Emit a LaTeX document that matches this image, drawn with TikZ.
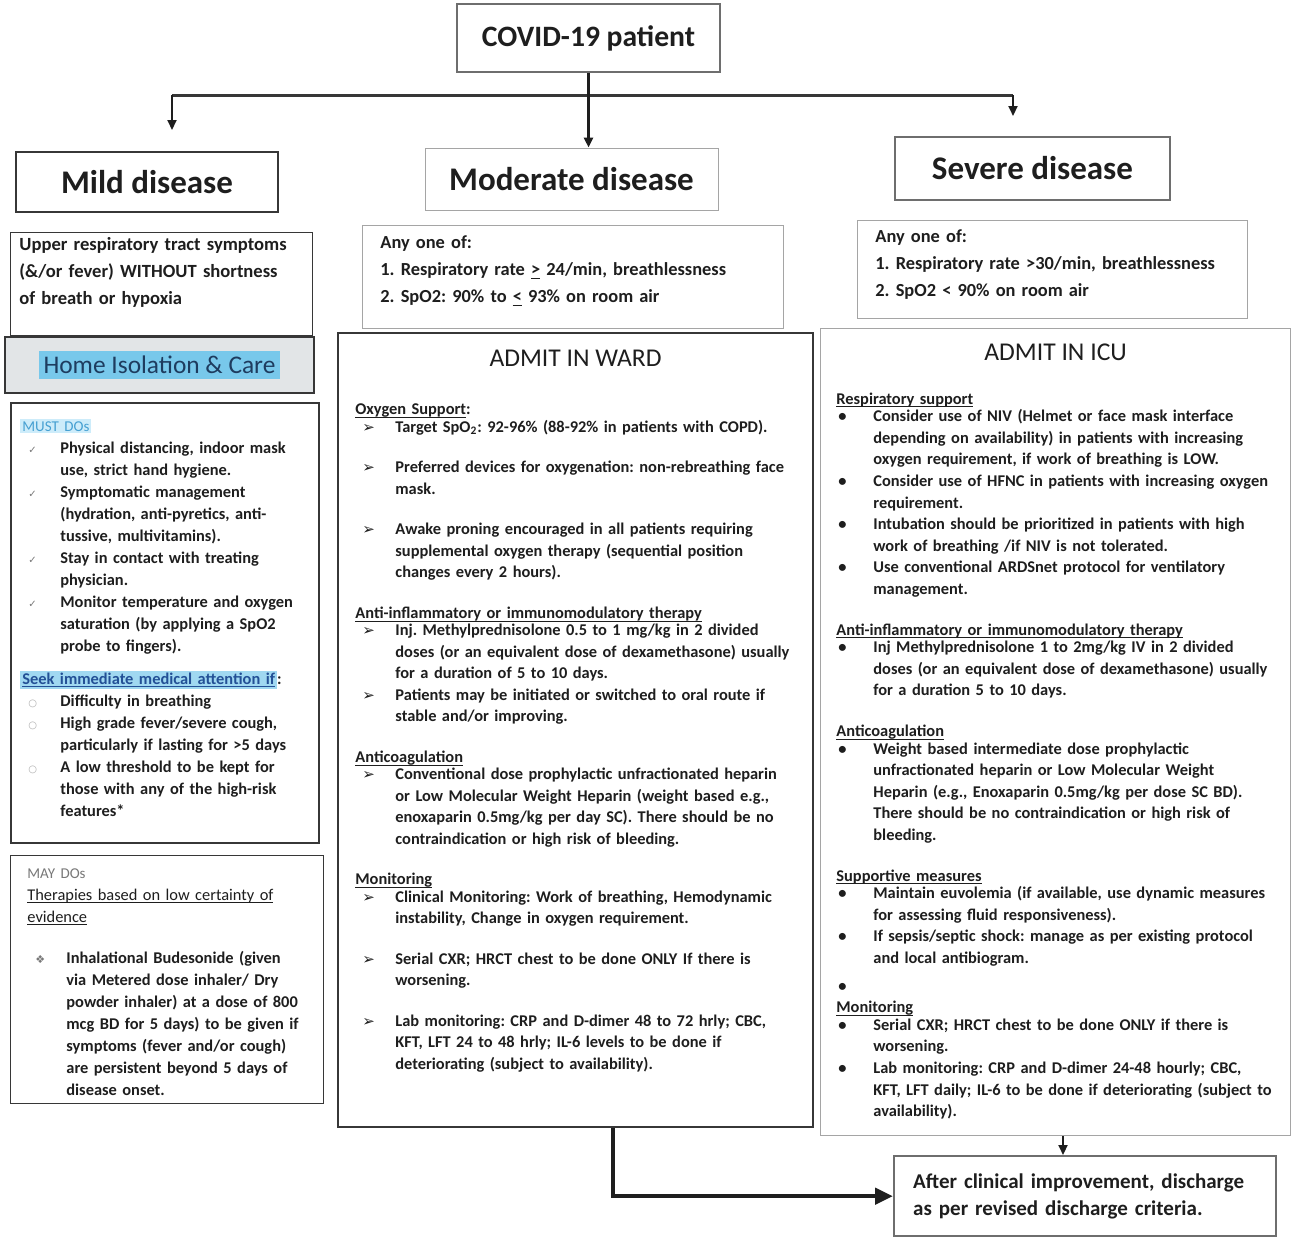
\documentclass[tikz,border=0pt]{standalone}
\usepackage{fontspec}
\setmainfont{Carlito}
\newfontfamily\symfont{DejaVu Sans}
\usetikzlibrary{positioning,calc,arrows.meta}

\definecolor{ink}{RGB}{30,30,30}
\definecolor{darkframe}{RGB}{55,55,55}
\definecolor{midframe}{RGB}{110,110,110}
\definecolor{paleframe}{RGB}{165,165,165}
\definecolor{hlblue}{RGB}{120,200,235}
\definecolor{paleblue}{RGB}{205,236,250}
\definecolor{mustblue}{RGB}{70,160,210}
\definecolor{linkblue}{RGB}{35,80,150}
\definecolor{homegray}{RGB}{226,229,231}
\definecolor{homeink}{RGB}{30,60,95}
\definecolor{markgray}{RGB}{120,120,120}

\setlength{\parindent}{0pt}
\newcommand{\ulinetext}[1]{\leavevmode\setbox0\hbox{#1}\rlap{\rule[-1.6pt]{\wd0}{0.45pt}}\box0}
\newcommand{\listentry}[3]{\par\noindent\hangindent=#1\hangafter=1\makebox[#1][l]{#2}{\def\\{\hfil\break}#3}\par}
\newcommand{\subhead}[2][]{\par\noindent\ulinetext{#2}#1\par\vspace{-2pt}}
\newcommand{\groupgap}{\vspace{9.5pt}}
\newcommand{\wardpt}[1]{\listentry{20pt}{\hspace{3.5pt}{\symfont\fontsize{7.5}{6}\selectfont ➢}}{#1}}
\newcommand{\icupt}[1]{\listentry{18.5pt}{\hspace{1pt}•}{#1}}
\newcommand{\tickpt}[1]{\listentry{20pt}{\hspace{4pt}{\symfont\color{markgray}\fontsize{5}{6}\selectfont ✓}}{#1}}
\newcommand{\ringpt}[1]{\listentry{20pt}{\hspace{4pt}{\symfont\color{markgray!60}\fontsize{5}{6}\selectfont ○}}{#1}}
\newcommand{\diampt}[1]{\listentry{19.5pt}{\hspace{4pt}{\symfont\color{markgray}\fontsize{5.5}{6}\selectfont ❖}}{#1}}
\newcommand{\hlt}[3][1pt]{{\setlength{\fboxsep}{#1}\colorbox{#2}{#3}}}

\begin{document}
\frenchspacing
\begin{tikzpicture}[x=0.5pt,y=-0.5pt,every node/.style={text=ink},
panel/.style={draw=#1, line width=0.6pt, inner sep=0pt, anchor=north west},
stage/.style={draw=#1, font=\fontsize{16.5}{20}\selectfont\bfseries, inner sep=0pt},
body/.style={font=\fontsize{8.2}{10.75}\selectfont\bfseries, align=left, inner sep=0pt, anchor=north west},
smallbody/.style={font=\fontsize{8.2}{11}\selectfont\bfseries, align=left, inner sep=0pt, anchor=north west},
condtext/.style={font=\fontsize{9.3}{13.5}\selectfont\bfseries, align=left, inner sep=0pt, anchor=north west},
wardtitle/.style={font=\fontsize{12.8}{15}\selectfont, inner sep=0pt},
tip/.style={line width=1pt, draw=ink, -{Triangle[length=5pt,width=4.5pt]}}]
\path[use as bounding box, fill=white] (0,0) rectangle (1295,1237);

\node[draw=midframe, line width=0.6pt, font=\fontsize{14.8}{18}\selectfont\bfseries, minimum width=131.5pt, minimum height=34pt, inner sep=0pt] (covid) at (588.5,38) {COVID-19 patient};
\node[stage=darkframe, line width=1.3pt, minimum width=131pt, minimum height=30pt] (mild) at (147,182) {Mild disease};
\node[stage=paleframe, line width=0.5pt, minimum width=146.5pt, minimum height=31pt] (moderate) at (571.5,179) {Moderate disease};
\node[stage=midframe, line width=0.9pt, minimum width=137.5pt, minimum height=31.5pt] (severe) at (1032.5,168.5) {Severe disease};

\coordinate (forkL) at (172,95);
\coordinate (forkR) at (1013,95);
\coordinate (mildtip) at (172,130);
\coordinate (severetip) at (1013,116);
\draw[line width=1.5pt, draw=darkframe] (forkL) -- (forkR);
\draw[tip] (forkL) -- (mildtip);
\draw[tip] (forkR) -- (severetip);
\draw[tip, line width=1.3pt] (covid.south) -- (covid.south |- moderate.north);

\node[panel=darkframe, minimum width=151pt, minimum height=51.5pt] (mildcond) at (10,232) {};
\node[condtext, text width=150pt] (mildcond-text) at ($(mildcond.north west)+(9,5)$) {Upper respiratory tract symptoms\\(\&/or fever) WITHOUT shortness\\of breath or hypoxia};
\node[panel=paleframe, minimum width=210.5pt, minimum height=51.5pt] (modcond) at (362,225) {};
\node[condtext, font=\fontsize{9.2}{13.5}\selectfont\bfseries, text width=200pt] (modcond-text) at ($(modcond.north west)+(18,10)$) {Any one of:\\1. Respiratory rate \underline{>} 24/min, breathlessness\\2. SpO2: 90\% to \underline{<} 93\% on room air};
\node[panel=paleframe, minimum width=195pt, minimum height=49pt] (sevcond) at (857,220) {};
\node[condtext, font=\fontsize{9.2}{13.5}\selectfont\bfseries, text width=190pt] (sevcond-text) at ($(sevcond.north west)+(18,9)$) {Any one of:\\1. Respiratory rate >30/min, breathlessness\\2. SpO2 < 90\% on room air};

\node[draw=darkframe, line width=1pt, fill=homegray, minimum width=154.5pt, minimum height=28pt, inner sep=0pt, font=\fontsize{12.7}{15}\selectfont, text=homeink] (home) at (159.5,365) {\hlt[2.5pt]{hlblue}{Home Isolation \& Care}};

\node[panel=darkframe, line width=1pt, minimum width=154pt, minimum height=220pt] (must) at (10,402) {};
\node[smallbody, text width=150pt] (must-text) at ($(must.north west)+(10,17)$) {\hlt{paleblue}{\color{mustblue}\mdseries\fontsize{7.5}{9}\selectfont MUST DOs}\par
\tickpt{Physical distancing, indoor mask\\use, strict hand hygiene.}
\tickpt{Symptomatic management\\(hydration, anti-pyretics, anti-\\tussive, multivitamins).}
\tickpt{Stay in contact with treating\\physician.}
\tickpt{Monitor temperature and oxygen\\saturation (by applying a SpO2\\probe to fingers).}
\vspace{5.5pt}
\noindent{\color{linkblue}\hlt{hlblue!70}{\ulinetext{Seek immediate medical attention if}}}:\par
\ringpt{Difficulty in breathing}
\ringpt{High grade fever/severe cough,\\particularly if lasting for >5 days}
\ringpt{A low threshold to be kept for\\those with any of the high-risk\\features*}};

\node[panel=darkframe, minimum width=156.5pt, minimum height=124pt] (may) at (10,855) {};
\node[smallbody, text width=150pt] (may-text) at ($(may.north west)+(17,13)$) {{\color{markgray}\mdseries\fontsize{7.5}{9}\selectfont MAY DOs}\par
{\mdseries\ulinetext{Therapies based on low certainty of}\\\ulinetext{evidence}}\par
\groupgap
\diampt{Inhalational Budesonide (given\\via Metered dose inhaler/ Dry\\powder inhaler) at a dose of 800\\mcg BD for 5 days) to be given if\\symptoms (fever and/or cough)\\are persistent beyond 5 days of\\disease onset.}};

\node[panel=darkframe, line width=1pt, minimum width=237.5pt, minimum height=397pt] (ward) at (337,332) {};
\node[wardtitle] (ward-title) at ($(ward.north)+(0,26)$) {ADMIT IN WARD};
\node[body, text width=235pt] (ward-text) at ($(ward.north west)+(18,61)$) {\subhead[:]{Oxygen Support}
\wardpt{Target SpO\textsubscript{2}: 92-96\% (88-92\% in patients with COPD).}
\groupgap
\wardpt{Preferred devices for oxygenation: non-rebreathing face\\mask.}
\groupgap
\wardpt{Awake proning encouraged in all patients requiring\\supplemental oxygen therapy (sequential position\\changes every 2 hours).}
\groupgap
\subhead{Anti-inflammatory or immunomodulatory therapy}
\wardpt{Inj. Methylprednisolone 0.5 to 1 mg/kg in 2 divided\\doses (or an equivalent dose of dexamethasone) usually\\for a duration of 5 to 10 days.}
\wardpt{Patients may be initiated or switched to oral route if\\stable and/or improving.}
\groupgap
\subhead{Anticoagulation}
\wardpt{Conventional dose prophylactic unfractionated heparin\\or Low Molecular Weight Heparin (weight based e.g.,\\enoxaparin 0.5mg/kg per day SC). There should be no\\contraindication or high risk of bleeding.}
\groupgap
\subhead{Monitoring}
\wardpt{Clinical Monitoring: Work of breathing, Hemodynamic\\instability, Change in oxygen requirement.}
\groupgap
\wardpt{Serial CXR; HRCT chest to be done ONLY If there is\\worsening.}
\groupgap
\wardpt{Lab monitoring: CRP and D-dimer 48 to 72 hrly; CBC,\\KFT, LFT 24 to 48 hrly; IL-6 levels to be done if\\deteriorating (subject to availability).}};

\node[panel=paleframe, minimum width=235pt, minimum height=403.5pt] (icu) at (820,328) {};
\node[wardtitle] (icu-title) at ($(icu.north)+(0,24)$) {ADMIT IN ICU};
\node[body, font=\fontsize{8.2}{10.8}\selectfont\bfseries, text width=232pt] (icu-text) at ($(icu.north west)+(16,54)$) {\subhead{Respiratory support}
\icupt{Consider use of NIV (Helmet or face mask interface\\depending on availability) in patients with increasing\\oxygen requirement, if work of breathing is LOW.}
\icupt{Consider use of HFNC in patients with increasing oxygen\\requirement.}
\icupt{Intubation should be prioritized in patients with high\\work of breathing /if NIV is not tolerated.}
\icupt{Use conventional ARDSnet protocol for ventilatory\\management.}
\groupgap
\subhead{Anti-inflammatory or immunomodulatory therapy}
\icupt{Inj Methylprednisolone 1 to 2mg/kg IV in 2 divided\\doses (or an equivalent dose of dexamethasone) usually\\for a duration 5 to 10 days.}
\groupgap
\subhead{Anticoagulation}
\icupt{Weight based intermediate dose prophylactic\\unfractionated heparin or Low Molecular Weight\\Heparin (e.g., Enoxaparin 0.5mg/kg per dose SC BD).\\There should be no contraindication or high risk of\\bleeding.}
\groupgap
\subhead{Supportive measures}
\icupt{Maintain euvolemia (if available, use dynamic measures\\for assessing fluid responsiveness).}
\icupt{If sepsis/septic shock: manage as per existing protocol\\and local antibiogram.}
\vspace{3pt}
\icupt{}
\subhead{Monitoring}
\icupt{Serial CXR; HRCT chest to be done ONLY if there is\\worsening.}
\icupt{Lab monitoring: CRP and D-dimer 24-48 hourly; CBC,\\KFT, LFT daily; IL-6 to be done if deteriorating (subject to\\availability).}};

\node[draw=midframe, line width=1.2pt, minimum width=191pt, minimum height=40pt, text width=172pt, align=left, inner xsep=9.5pt, font=\fontsize{10.5}{13.5}\selectfont\bfseries, anchor=north west] (discharge) at (893,1155) {After clinical improvement, discharge\\as per revised discharge criteria.};

\coordinate (wardexit) at ($(ward.south west)+(276,0)$);
\draw[line width=2.2pt, draw=ink, -{Triangle[length=9pt,width=8pt]}] (wardexit) |- (discharge.west);
\coordinate (icuexit) at ($(icu.south west)+(243,0)$);
\draw[tip] (icuexit) -- (icuexit |- discharge.north);
\end{tikzpicture}
\end{document}
